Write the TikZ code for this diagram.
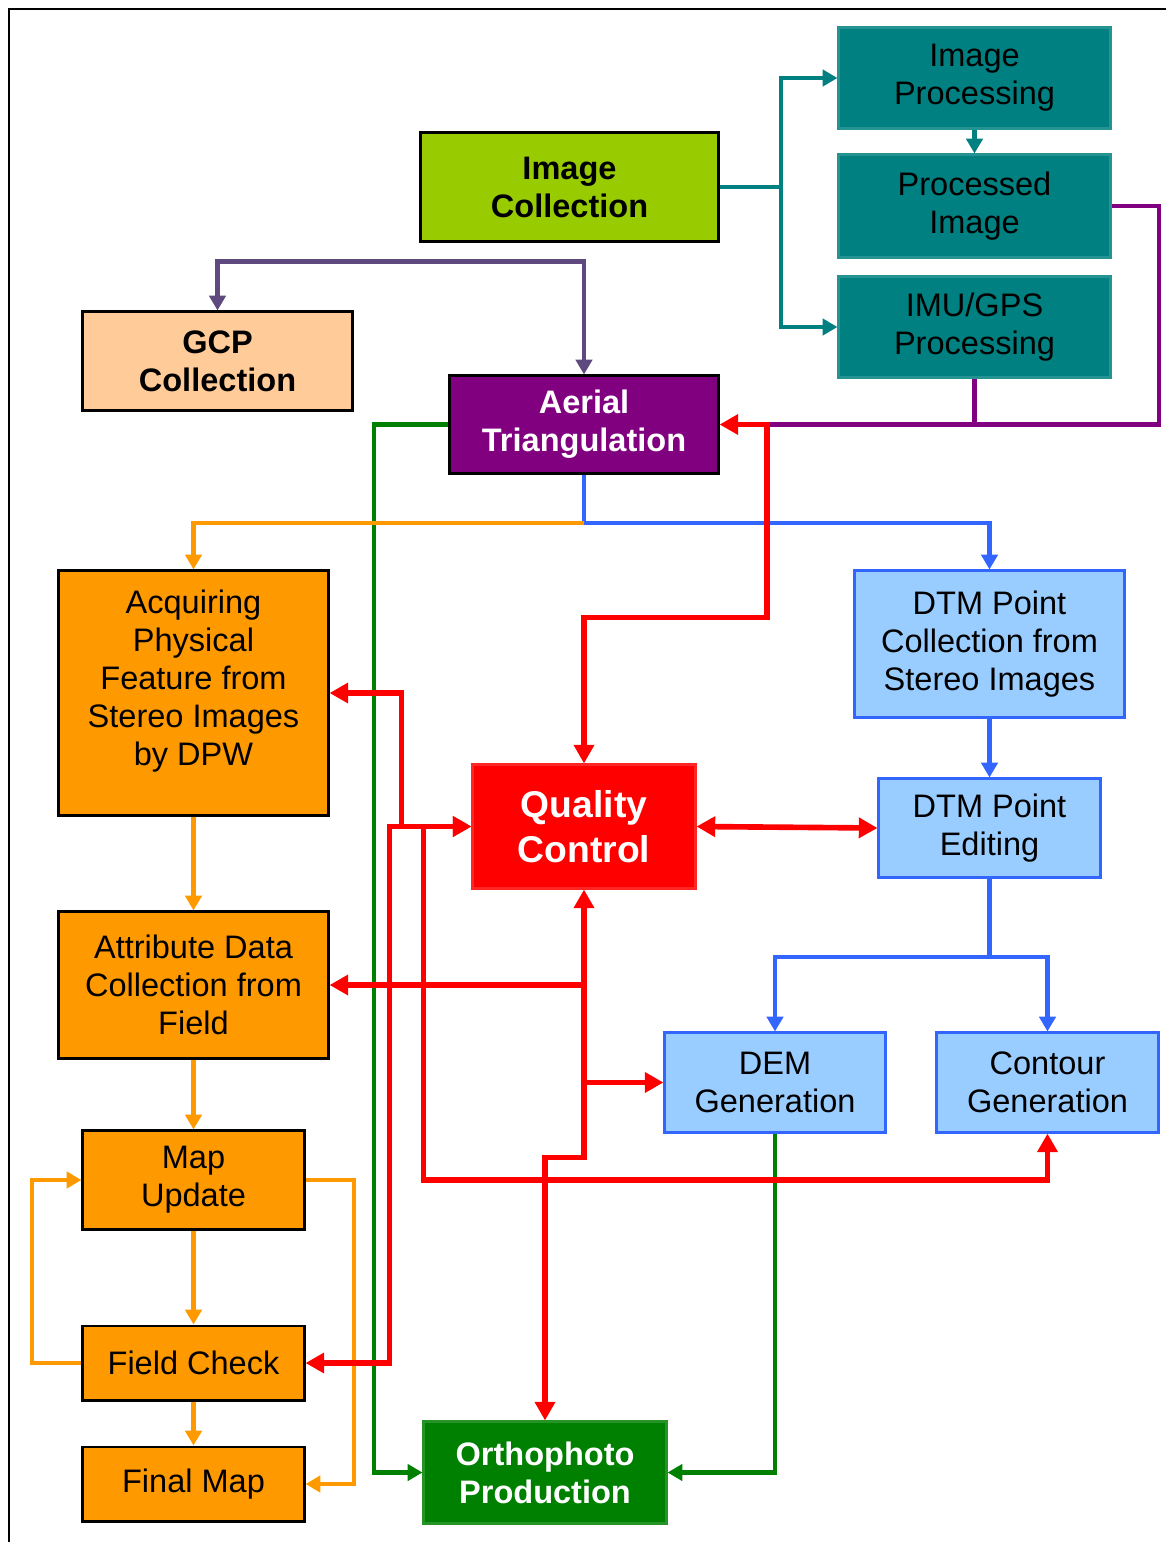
\documentclass[tikz,border=0pt]{standalone}
\usepackage{fontspec}
\setmainfont{Liberation Sans}
\usetikzlibrary{arrows.meta}

\definecolor{LimeFill}{HTML}{99CC00}
\definecolor{TealFill}{HTML}{008080}
\definecolor{PeachFill}{HTML}{FFCC99}
\definecolor{PlumFill}{HTML}{800080}
\definecolor{OrangeFill}{HTML}{FF9900}
\definecolor{SkyFill}{HTML}{99CCFF}
\definecolor{SkyLine}{HTML}{3366FF}
\definecolor{RedFill}{HTML}{FF0000}
\definecolor{GreenFill}{HTML}{008000}
\definecolor{GrayPlum}{HTML}{5E4A7E}

\newcommand{\NormFont}{\fontsize{9.25pt}{10.8pt}\selectfont}
\newcommand{\BoldFont}{\fontsize{9.25pt}{10.8pt}\selectfont\bfseries}

\tikzset{
  VertexStyle/.style = {align=center, inner sep=0pt, line width=0.85pt, font=\NormFont},
  Size/.style 2 args = {minimum width=#1cm, minimum height=#2cm},
  LimeBox/.style   = {VertexStyle, draw=black, fill=LimeFill, font=\BoldFont},
  TealBox/.style   = {VertexStyle, draw=TealFill!85!white, fill=TealFill},
  PeachBox/.style  = {VertexStyle, draw=black, fill=PeachFill, font=\BoldFont},
  PlumBox/.style   = {VertexStyle, draw=black, fill=PlumFill, text=white, font=\BoldFont},
  OrangeBox/.style = {VertexStyle, draw=black, fill=OrangeFill},
  SkyBox/.style    = {VertexStyle, draw=SkyLine, fill=SkyFill},
  RedBox/.style    = {VertexStyle, draw=RedFill!85!white, fill=RedFill, text=white,
                      font=\fontsize{10.6pt}{12.8pt}\selectfont\bfseries},
  GreenBox/.style  = {VertexStyle, draw=GreenFill!85!white, fill=GreenFill, text=white, font=\BoldFont},
  EdgeStyle/.style = {line width=1.15pt, >={Triangle[length=4.2pt,width=4.6pt]}},
  TealEdge/.style   = {EdgeStyle, draw=TealFill},
  PlumEdge/.style   = {EdgeStyle, draw=PlumFill},
  GrayEdge/.style   = {EdgeStyle, draw=GrayPlum},
  GreenEdge/.style  = {EdgeStyle, draw=GreenFill},
  OrangeEdge/.style = {EdgeStyle, draw=OrangeFill},
  BlueEdge/.style   = {EdgeStyle, draw=SkyLine},
  RedEdge/.style    = {line width=1.6pt, draw=RedFill, >={Triangle[length=5.3pt,width=5.6pt]}}
}

\begin{document}
\begin{tikzpicture}[x=0.01cm, y=-0.01cm]

    \useasboundingbox (0,0) rectangle (1166,1542);
    \draw[line width=0.6pt] (9,1542) |- (1166,9);

    \node[LimeBox, Size={2.97}{1.08}] (IC) at (569.5,187) {Image\\Collection};
    \node[TealBox, Size={2.71}{1.00}] (IP) at (974.5,78) {Image\\Processing};
    \node[TealBox, Size={2.71}{1.02}] (PI) at (974.5,206) {Processed\\Image};
    \node[TealBox, Size={2.71}{1.00}] (IMU) at (974.5,327) {IMU/GPS\\Processing};
    \node[PeachBox, Size={2.69}{0.98}] (GCP) at (217.5,361) {GCP\\Collection};
    \node[PlumBox, Size={2.68}{0.97}] (AT) at (584,424.5) {Aerial\\Triangulation};
    \node[OrangeBox, Size={2.69}{2.44}, text depth=0.31cm] (APF) at (193.5,693)
        {Acquiring\\Physical\\Feature from\\Stereo Images\\by DPW};
    \node[SkyBox, Size={2.69}{1.46}] (DTMC) at (989.5,644) {DTM Point\\Collection from\\Stereo Images};
    \node[RedBox, Size={2.22}{1.23}] (QC) at (584,826.5) {Quality\\Control};
    \node[SkyBox, Size={2.21}{0.98}] (DTME) at (989.5,828) {DTM Point\\Editing};
    \node[OrangeBox, Size={2.69}{1.46}] (ADC) at (193.5,985) {Attribute Data\\Collection from\\Field};
    \node[SkyBox, Size={2.20}{0.99}] (DEM) at (775,1082.5) {DEM\\Generation};
    \node[SkyBox, Size={2.21}{0.99}] (CG) at (1047.5,1082.5) {Contour\\Generation};
    \node[OrangeBox, Size={2.21}{0.98}] (MU) at (193.5,1180) {Map\\Update};
    \node[OrangeBox, Size={2.21}{0.74}] (FC) at (193.5,1363) {Field Check};
    \node[OrangeBox, Size={2.21}{0.74}] (FM) at (193.5,1484) {Final Map};
    \node[GreenBox, Size={2.42}{1.01}] (OP) at (545,1472.5) {Orthophoto\\Production};

    \coordinate (R1) at (767,424.5);

    \draw[TealEdge] (IC.east) -- ++(61,0) coordinate (T1);
    \draw[TealEdge,->] (T1) |- (IP.west);
    \draw[TealEdge,->] (T1) |- (IMU.west);
    \draw[TealEdge,->] (IP) -- (PI);
    \draw[PlumEdge] (PI.east) -- ++(47,0) |- (R1);
    \draw[PlumEdge] (IMU.south) -- (IMU.south |- R1);
    \draw[GrayEdge,<->] (GCP.north) -- ++(0,-49) -| (AT.north);
    \draw[GreenEdge,->] (AT.west) -- ++(-74,0) |- (OP.west);
    \draw[GreenEdge,->] (DEM.south) |- (OP.east);
    \draw[BlueEdge,->] (AT.south) -- ++(0,48) coordinate (B1) -| (DTMC.north);
    \draw[OrangeEdge,->] (B1) -| (APF.north);
    \draw[BlueEdge,->] (DTMC) -- (DTME);
    \draw[BlueEdge] (DTME.south) -- ++(0,78) coordinate (B2);
    \draw[BlueEdge,->] (B2) -| (DEM.north);
    \draw[BlueEdge,->] (B2) -| (CG.north);
    \foreach \a/\b in {APF/ADC, ADC/MU, MU/FC, FC/FM}
        \draw[OrangeEdge,->] (\a) -- (\b);
    \draw[OrangeEdge,->] (FC.west) -- ++(-49,0) |- (MU.west);
    \draw[OrangeEdge,->] (MU.east) -- ++(48,0) |- (FM.east);

    \draw[RedEdge,<->] (QC.north) -- ++(0,-146) -| (R1) -- (AT.east);
    \draw[RedEdge,<->] (QC.east) -- (DTME.west);
    \draw[RedEdge,<->] (APF.east) -- ++(72,0) |- (QC.west);
    \draw[RedEdge,<->] (FC.east) -- ++(84,0) |- (QC.west);
    \draw[RedEdge,->] (QC.west) ++(-48,0) -- ++(0,353.5) -| (CG.south);
    \draw[RedEdge,<->] (QC.south) -- ++(0,268) -| (OP.north);
    \draw[RedEdge,->] (QC.south |- ADC.east) -- (ADC.east);
    \draw[RedEdge,->] (QC.south |- DEM.west) -- (DEM.west);

\end{tikzpicture}
\end{document}
